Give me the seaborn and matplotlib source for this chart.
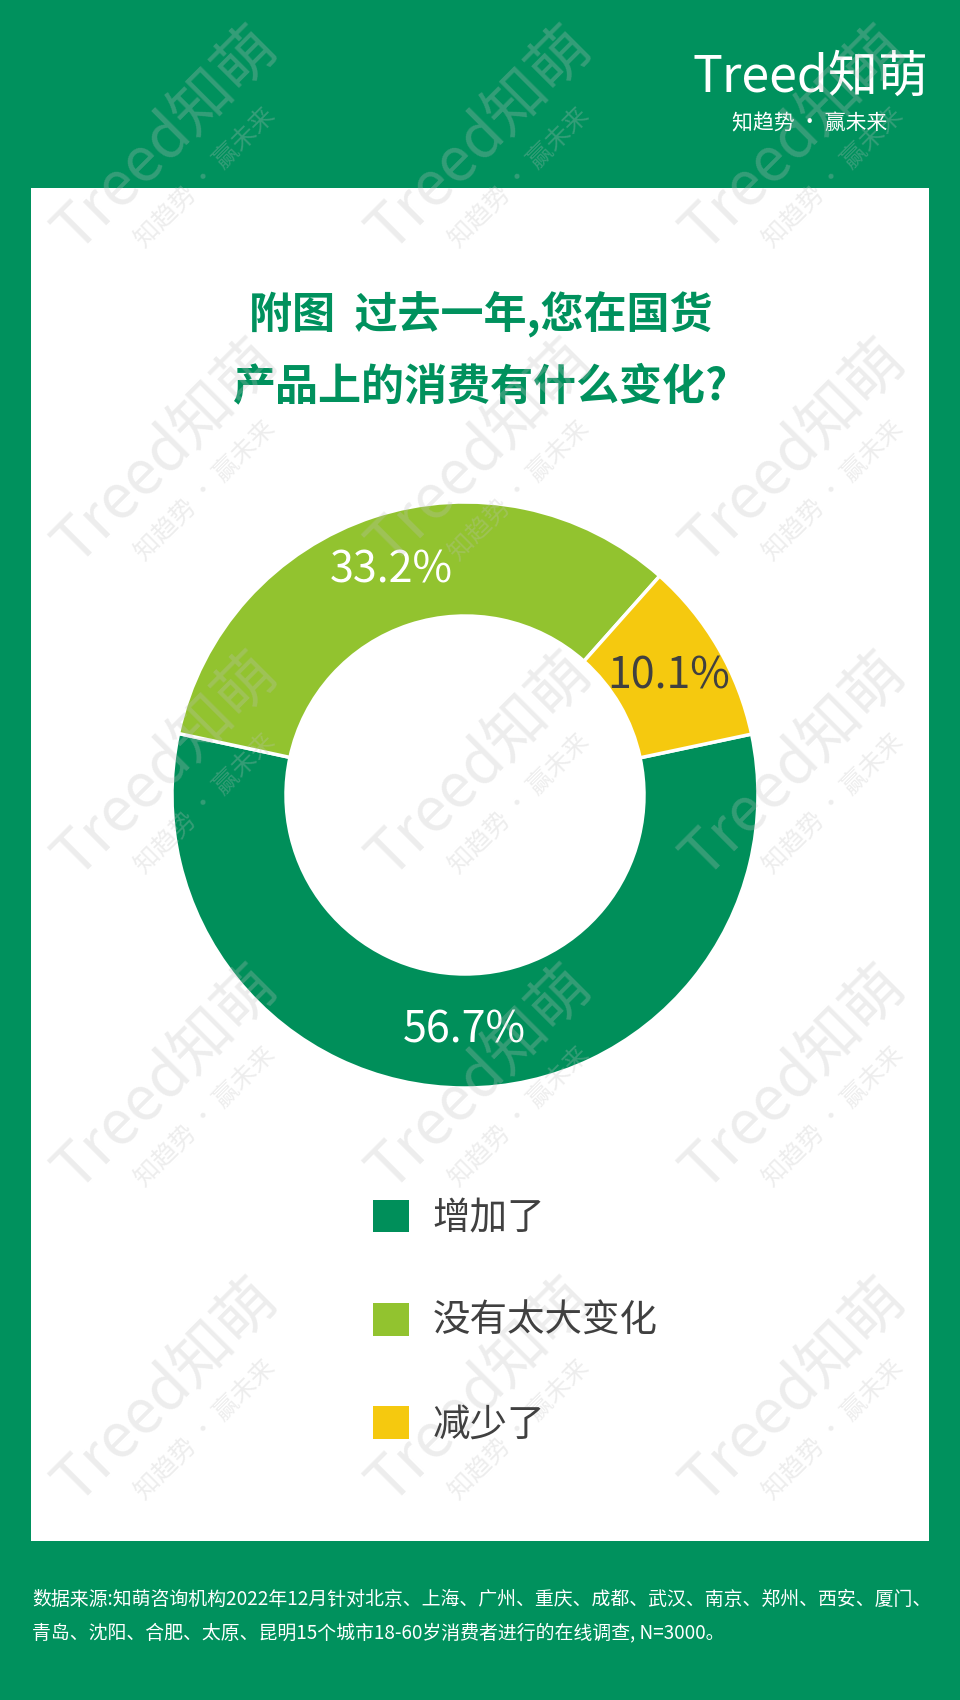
import matplotlib
matplotlib.use("Agg")
import matplotlib.pyplot as plt
from matplotlib.patches import Patch
import seaborn as sns

# ---- data ----
categories = ['增加了', '没有太大变化', '减少了']
shares = [56.7, 33.2, 10.1]
title_lines = ['附图  过去一年,您在国货', '产品上的消费有什么变化?']
source_lines = ['数据来源:知萌咨询机构2022年12月针对北京、上海、广州、重庆、成都、武汉、南京、郑州、西安、厦门、',
                '青岛、沈阳、合肥、太原、昆明15个城市18-60岁消费者进行的在线调查, N=3000。']
brand = 'Treed知萌'
slogan = '知趋势 · 赢未来'

# ---- style ----
sns.set_theme(style='white')
plt.rcParams['font.family'] = ['Noto Sans CJK SC', 'DejaVu Sans']

GREEN = '#00915D'
palette = sns.color_palette(['#008F5A', '#92C32F', '#F5C90F'])
label_colors = ['white', 'white', '#404040']

W, H = 960, 1700
fig = plt.figure(figsize=(W / 100, H / 100), dpi=100)
fig.patch.set_facecolor(GREEN)

def fx(px):
    return px / W

def fy(py):
    return 1 - py / H

# white panel (behind everything)
panel = fig.add_axes([fx(31), fy(1541), fx(929) - fx(31), fy(188) - fy(1541)], zorder=-1)
panel.set_facecolor('white')
panel.set_xticks([])
panel.set_yticks([])
for s in panel.spines.values():
    s.set_visible(False)

# title
fig.text(fx(481), fy(315), title_lines[0], ha='center', va='center', fontsize=31,
         fontweight='bold', color=GREEN)
fig.text(fx(481), fy(386), title_lines[1], ha='center', va='center', fontsize=31,
         fontweight='bold', color=GREEN)

# donut
cx, cy, R, r = 465, 795, 293, 179
ax = fig.add_axes([fx(cx - R), fy(cy + R), (2 * R) / W, (2 * R) / H], zorder=1)
ax.patch.set_visible(False)
wedges, texts, autotexts = ax.pie(
    shares, colors=palette, startangle=12, counterclock=False, radius=1,
    wedgeprops=dict(width=(R - r) / R, edgecolor='white', linewidth=2.5),
    autopct='%.1f%%', pctdistance=1 - 0.5 * (R - r) / R,
    textprops=dict(fontsize=31))
for t, c in zip(autotexts, label_colors):
    t.set_color(c)
ax.set_xlim(-1, 1)
ax.set_ylim(-1, 1)
ax.set_aspect('equal')
ax.axis('off')

# legend
handles = [Patch(facecolor=c, edgecolor='none') for c in palette]
leg = fig.legend(handles, categories, loc='upper left',
                 bbox_to_anchor=(fx(373), fy(1199)), bbox_transform=fig.transFigure,
                 frameon=False, fontsize=27, handlelength=0.96, handleheight=0.96,
                 handletextpad=0.62, labelspacing=1.71, borderpad=0, borderaxespad=0)
for t in leg.get_texts():
    t.set_color('#404040')

# footer
fig.text(fx(32), fy(1599), source_lines[0], ha='left', va='center', fontsize=13.6, color='white')
fig.text(fx(32), fy(1633), source_lines[1], ha='left', va='center', fontsize=13.6, color='white')

# top-right logo
fig.text(fx(810), fy(78), brand, ha='center', va='center', fontsize=36, color='white')
fig.text(fx(810), fy(123), slogan, ha='center', va='center', fontsize=15, color='white')

# watermarks
for j in range(5):
    for i in range(3):
        x0 = 167 + 314 * i
        y0 = 140 + 313 * j
        fig.text(fx(x0), fy(y0), brand, rotation=45, ha='center', va='center',
                 rotation_mode='anchor', fontsize=44, color='#c0c0c0', alpha=0.28, zorder=5)
        fig.text(fx(x0 + 38), fy(y0 + 38), slogan, rotation=45, ha='center', va='center',
                 rotation_mode='anchor', fontsize=18, color='#c0c0c0', alpha=0.28, zorder=5)

fig.savefig('out.png', dpi=100, facecolor=fig.get_facecolor())
